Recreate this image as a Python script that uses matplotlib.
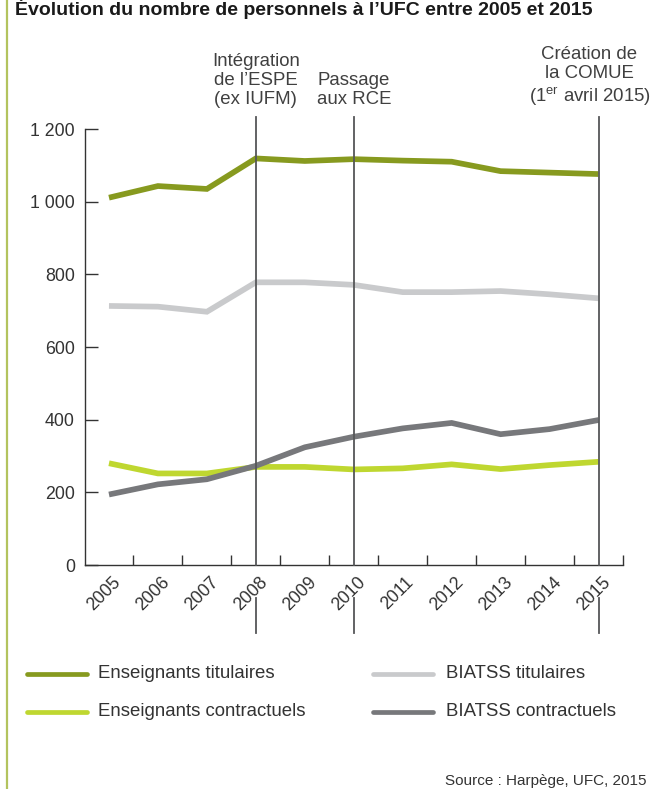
import matplotlib
matplotlib.use("Agg")
import matplotlib.pyplot as plt
from matplotlib.lines import Line2D
from matplotlib import transforms

plt.rcParams["font.family"] = ["Liberation Sans", "DejaVu Sans"]
plt.rcParams["mathtext.fontset"] = "custom"
plt.rcParams["mathtext.rm"] = "Liberation Sans"
plt.rcParams["mathtext.it"] = "Liberation Sans:italic"
plt.rcParams["mathtext.bf"] = "Liberation Sans:bold"

# ---- data -------------------------------------------------------------
years = [2005, 2006, 2007, 2008, 2009, 2010, 2011, 2012, 2013, 2014, 2015]
enseignants_titulaires = [1011, 1043, 1035, 1119, 1112, 1117, 1113, 1110, 1084, 1080, 1076]
biatss_titulaires = [713, 711, 697, 778, 778, 771, 751, 751, 754, 745, 734]
enseignants_contractuels = [280, 252, 252, 270, 270, 263, 266, 277, 264, 275, 284]
biatss_contractuels = [194, 222, 236, 273, 324, 353, 376, 391, 360, 374, 399]

series_labels = ["Enseignants titulaires", "BIATSS titulaires",
                 "Enseignants contractuels", "BIATSS contractuels"]
series_values = [enseignants_titulaires, biatss_titulaires,
                 enseignants_contractuels, biatss_contractuels]
series_colors = ["#879a1f", "#c9cacc", "#bfd730", "#77787b"]

y_ticks = [0, 200, 400, 600, 800, 1000, 1200]
y_tick_labels = ["0", "200", "400", "600", "800", "1 000", "1 200"]

event_years = [2008, 2010, 2015]
event_labels = ["Intégration\nde l’ESPE\n(ex IUFM)",
                "Passage\naux RCE",
                "Création de\nla COMUE\n(1$^{\\mathrm{er}}$ avril 2015)"]
event_label_shift_px = [0, 0, -9]

title = "Évolution du nombre de personnels à l’UFC entre 2005 et 2015"
source = "Source : Harpège, UFC, 2015"

# ---- figure ----------------------------------------------------------
W, H = 650, 789
fig = plt.figure(figsize=(W / 100, H / 100), dpi=100)
fig.patch.set_facecolor("white")

def fy(px):
    return 1 - px / H

def fx(px):
    return px / W

ax = fig.add_axes([fx(84.5), fy(565), fx(623) - fx(84.5), fy(129) - fy(565)])
ax.set_xlim(2004.5, 2015.5)
ax.set_ylim(0, 1200)

for vals, col in zip(series_values, series_colors):
    ax.plot(years, vals, color=col, lw=4.1, solid_capstyle="butt",
            solid_joinstyle="miter", zorder=2)
# dark contract line drawn above the light one
ax.lines[3].set_zorder(3)

for s in ["top", "right"]:
    ax.spines[s].set_visible(False)
for s in ["left", "bottom"]:
    ax.spines[s].set_color("#333333")
    ax.spines[s].set_linewidth(1.0)

text_col = "#333333"
ax.set_yticks(y_ticks)
ax.set_yticklabels(y_tick_labels)
ax.tick_params(axis="y", direction="in", length=9.4, width=1.0,
               color="#333333", labelsize=12.8, labelcolor=text_col, pad=7)

ax.set_xticks(years)
ax.set_xticklabels([str(y) for y in years], rotation=45, ha="center", va="top")
ax.set_xticks([y + 0.5 for y in years], minor=True)
ax.tick_params(axis="x", which="major", length=0, labelsize=12.8,
               labelcolor=text_col, pad=6)
ax.tick_params(axis="x", which="minor", direction="in", length=7.5,
               width=1.0, color="#333333")
shift = transforms.ScaledTranslation(-0.05, 0, fig.dpi_scale_trans)
for lab in ax.get_xticklabels():
    lab.set_transform(lab.get_transform() + shift)

# ---- event markers --------------------------------------------------
blend = transforms.blended_transform_factory(ax.transData, fig.transFigure)
for yr, lab, dx in zip(event_years, event_labels, event_label_shift_px):
    for y0, y1 in [(117, 565), (598, 633)]:
        fig.add_artist(Line2D([yr, yr], [fy(y0), fy(y1)], transform=blend,
                              color="#555658", lw=1.3, zorder=5))
    fig.text(yr, fy(108), lab,
             transform=blend + transforms.ScaledTranslation(dx / 100, 0, fig.dpi_scale_trans),
             ha="center", va="bottom", multialignment="center",
             fontsize=13.4, color="#404040", linespacing=1.17)

# ---- legend ---------------------------------------------------------
legend_pos = [(27, 87, 98, 674), (373, 433, 446, 674),
              (27, 87, 98, 712), (373, 433, 446, 712)]
for (x0, x1, xt, yy), lab, col in zip(legend_pos, series_labels, series_colors):
    fig.add_artist(Line2D([fx(x0), fx(x1)], [fy(yy), fy(yy)],
                          transform=fig.transFigure, color=col, lw=3.4,
                          solid_capstyle="round"))
    fig.text(fx(xt), fy(yy), lab, ha="left", va="center", fontsize=13.4,
             color=text_col)

# ---- frame decorations ----------------------------------------------
fig.add_artist(Line2D([fx(6.7), fx(6.7)], [0, 1], transform=fig.transFigure,
                      color="#b3c35e", lw=1.6))
fig.text(fx(15), fy(15), title, ha="left", va="baseline", fontsize=14,
         fontweight="bold", color="#1a1a1a")
fig.text(fx(445), fy(781), source, ha="left", va="center", fontsize=11,
         color=text_col)

fig.savefig("out.png", dpi=100, facecolor="white")
